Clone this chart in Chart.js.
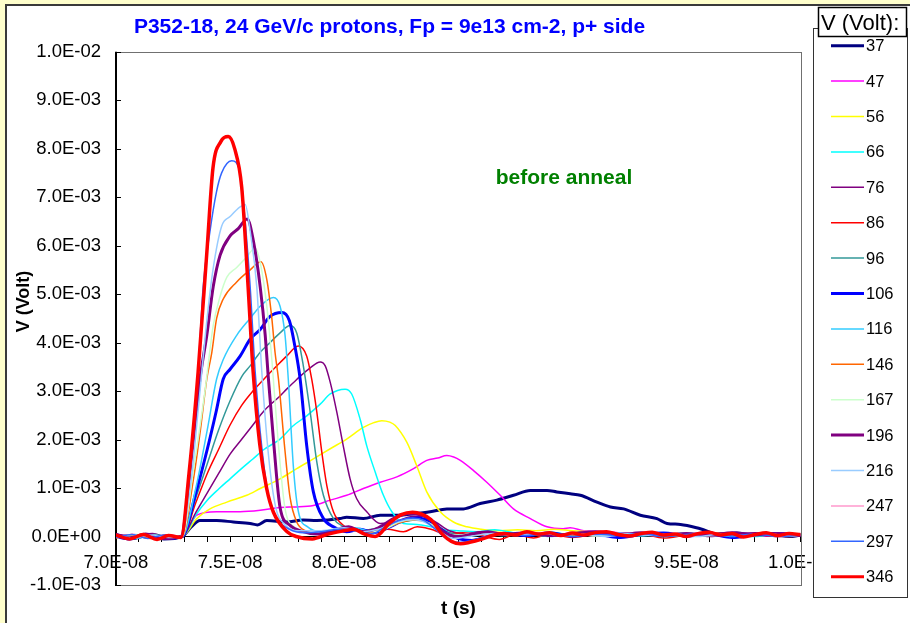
<!DOCTYPE html>
<html><head><meta charset="utf-8">
<script src="https://cdn.jsdelivr.net/npm/chart.js@4/dist/chart.umd.min.js"></script>
<style>html,body{margin:0;padding:0;background:#fff}canvas{display:block}</style>
</head><body>
<canvas id="c" width="910" height="623"></canvas>
<script>
// ---------- DATA (time in ns, signal in mV; converted to s / V when plotted) ----------
const voltages = ['37','47','56','66','76','86','96','106','116','146','167','196','216','247','297','346'];

const s37 = [[70,0.03],[70.7,-0.04],[71.4,0.02],[72.1,-0.05],[72.9,0.0],[73.3,0.2],[73.68,0.33],[74.41,0.33],[75.14,0.3],[75.88,0.27],[76.2,0.24],[76.61,0.33],[77.48,0.3],[78.2,0.34],[78.8,0.33],[79.82,0.37],[80.11,0.4],[80.84,0.37],[81.58,0.44],[82.3,0.44],[83.04,0.47],[83.77,0.51],[84.5,0.57],[85.23,0.57],[85.96,0.68],[86.69,0.75],[87.42,0.85],[88.16,0.95],[88.89,0.95],[89.32,0.92],[89.91,0.88],[90.35,0.85],[91.08,0.71],[91.67,0.61],[92.25,0.57],[92.98,0.44],[93.71,0.37],[94.15,0.27],[94.74,0.25],[95.61,0.16],[96.49,0.04],[97.2,0.07],[98,0.02],[98.8,0.05],[99.5,0.0],[100,0.03]];
const s47 = [[70,0.0],[70.8,0.04],[71.6,-0.03],[72.3,0.03],[72.9,0.0],[73.54,0.44],[74.41,0.51],[75.44,0.51],[76.32,0.54],[77.19,0.6],[77.92,0.61],[78.65,0.64],[79.39,0.75],[80.11,0.85],[80.84,0.99],[81.58,1.12],[82.31,1.23],[83.04,1.4],[83.62,1.57],[84.1,1.62],[84.5,1.67],[84.8,1.64],[85.09,1.57],[85.67,1.36],[86.25,1.12],[86.84,0.85],[87.42,0.57],[88.16,0.37],[88.89,0.2],[89.6,0.16],[89.9,0.18],[90.5,0.12],[91.5,0.1],[92.5,0.06],[93.5,0.08],[94.5,0.03],[95.5,0.06],[96.5,0.02],[97.5,0.05],[98.5,0.01],[99.5,0.04],[100,0.02]];
const s56 = [[70,0.02],[70.8,-0.02],[71.6,0.03],[72.3,-0.02],[72.9,0.0],[73.54,0.37],[74.12,0.57],[74.86,0.71],[75.73,0.85],[76.32,0.99],[77.19,1.19],[77.92,1.4],[78.65,1.6],[79.39,1.81],[80.11,2.01],[80.84,2.25],[81.3,2.35],[81.65,2.39],[82.0,2.36],[82.24,2.29],[82.75,1.94],[83.18,1.46],[83.62,0.92],[84.21,0.51],[84.79,0.3],[85.38,0.2],[86,0.15],[86.8,0.12],[87.6,0.14],[88.4,0.12],[89.2,0.15],[90,0.12],[91,0.09],[92,0.04],[93,0.07],[94,0.02],[95,0.06],[96,0.03],[97,0.06],[98,0.01],[99,0.05],[100,0.03]];
const s66 = [[70,-0.01],[70.8,0.03],[71.6,-0.04],[72.3,0.02],[72.9,0.0],[73.5,0.45],[74.0,0.75],[74.5,0.98],[75.0,1.19],[75.5,1.4],[76.0,1.6],[76.5,1.8],[77.19,2.01],[77.78,2.29],[78.36,2.49],[78.95,2.73],[79.39,2.94],[80.04,3.04],[80.33,2.94],[80.7,2.42],[80.99,1.87],[81.36,1.33],[81.72,0.85],[82.09,0.51],[82.6,0.27],[83.2,0.25],[83.8,0.2],[84.4,0.14],[85,0.12],[85.8,0.1],[86.6,0.14],[87.4,0.08],[88.2,0.05],[89,0.09],[90,0.03],[91,0.07],[92,0.02],[93,0.06],[94,0.03],[95,0.07],[96,0.02],[97,0.05],[98,0.0],[99,0.05],[100,0.03]];
const s76 = [[70,0.05],[70.8,0.0],[71.6,0.06],[72.3,-0.02],[72.9,0.0],[73.5,0.5],[74.0,0.9],[74.5,1.3],[75.0,1.7],[75.5,2.0],[76.0,2.3],[76.5,2.6],[77.19,2.9],[77.48,3.04],[77.92,3.24],[78.51,3.48],[78.95,3.6],[79.17,3.52],[79.39,3.18],[79.68,2.56],[79.96,1.87],[80.26,1.19],[80.55,0.78],[80.99,0.51],[81.58,0.27],[82.2,0.3],[82.8,0.4],[83.4,0.42],[84,0.3],[84.6,0.12],[85.3,0.06],[86,0.1],[87,0.04],[88,0.08],[89,0.02],[90,0.06],[91,0.01],[92,0.05],[93,0.09],[94,0.03],[95,0.06],[96,0.0],[97,0.05],[98,0.08],[99,0.02],[100,0.04]];
const s86 = [[70,-0.02],[70.7,0.04],[71.5,-0.03],[72.2,0.03],[72.9,0.0],[73.5,0.7],[74.0,1.3],[74.5,1.8],[75.0,2.3],[75.5,2.7],[76.0,3.0],[76.61,3.31],[77.05,3.52],[77.48,3.72],[77.99,3.93],[78.36,3.72],[78.58,3.24],[78.8,2.57],[79.02,1.74],[79.24,1.05],[79.53,0.51],[79.96,0.23],[80.5,0.12],[81.2,0.08],[81.9,0.15],[82.6,0.1],[83.2,0.2],[83.8,0.15],[84.5,0.05],[85.2,0.08],[86,0.02],[86.8,-0.06],[87.5,0.04],[88.3,-0.03],[89,0.05],[90,-0.02],[91,0.04],[92,0.0],[93,0.05],[94,-0.03],[95,0.03],[96,0.06],[97,-0.01],[98,0.04],[99,0.0],[100,0.03]];
const s96 = [[70,0.03],[70.9,-0.02],[71.7,0.04],[72.4,-0.03],[72.9,0.0],[73.5,0.8],[74.0,1.5],[74.5,2.2],[75.0,2.8],[75.51,3.3],[75.88,3.52],[76.32,3.8],[76.75,4.0],[77.19,4.2],[77.63,4.35],[77.92,4.2],[78.21,3.52],[78.51,2.57],[78.8,1.54],[79.09,0.85],[79.53,0.37],[79.96,0.21],[80.5,0.12],[81.2,0.15],[81.9,0.22],[82.6,0.3],[83.3,0.35],[83.9,0.28],[84.5,0.1],[85.2,0.03],[86,0.08],[87,0.03],[88,0.07],[89,0.01],[90,0.05],[91,0.08],[92,0.02],[93,0.06],[94,0.0],[95,0.04],[96,0.07],[97,0.02],[98,0.05],[99,0.01],[100,0.04]];
const s106 = [[70,0.0],[70.6,-0.05],[71.3,0.03],[72,-0.04],[72.9,0.0],[73.5,0.9],[74.0,1.8],[74.4,2.6],[74.7,3.25],[75.0,3.45],[75.44,3.72],[75.88,4.07],[76.32,4.27],[76.75,4.54],[77.27,4.62],[77.6,4.45],[77.85,3.9],[78.07,3.25],[78.36,1.87],[78.65,0.92],[79.09,0.37],[79.53,0.2],[80.1,0.1],[80.7,0.15],[81.3,0.08],[82,0.2],[82.7,0.35],[83.2,0.38],[83.8,0.3],[84.4,0.1],[85,-0.04],[85.6,-0.08],[86.3,0.0],[87,0.06],[88,0.02],[89,0.07],[90,0.01],[91,0.05],[92,-0.02],[93,0.04],[94,0.07],[95,0.01],[96,0.05],[97,-0.02],[98,0.04],[99,0.06],[100,0.02]];
const s116 = [[70,0.02],[70.8,-0.04],[71.6,0.02],[72.3,-0.03],[72.9,0.0],[73.5,1.0],[74.0,2.2],[74.41,3.25],[74.7,3.65],[75.29,4.15],[75.88,4.5],[76.32,4.75],[76.9,4.93],[77.19,4.75],[77.41,4.15],[77.55,3.25],[77.78,1.4],[78.0,0.5],[78.4,0.2],[79,0.1],[79.8,0.12],[80.5,0.18],[81.2,0.1],[81.9,0.18],[82.6,0.32],[83.2,0.36],[83.8,0.25],[84.4,0.08],[85,0.02],[86,0.07],[87,0.02],[88,0.06],[89,0.0],[90,0.05],[91,0.02],[92,0.07],[93,0.01],[94,0.05],[95,0.02],[96,0.06],[97,0.0],[98,0.05],[99,0.02],[100,0.04]];
const s146 = [[70,-0.03],[70.7,0.03],[71.5,-0.04],[72.2,0.02],[72.9,0.0],[73.4,1.2],[73.7,2.2],[73.98,3.25],[74.2,3.8],[74.41,4.5],[74.7,4.9],[75.29,5.25],[75.88,5.5],[76.35,5.67],[76.61,5.3],[76.83,4.5],[76.97,3.8],[77.12,3.25],[77.4,1.8],[77.63,0.8],[77.92,0.3],[78.3,0.12],[79,0.05],[79.7,0.1],[80.4,0.15],[81,0.08],[81.7,0.15],[82.4,0.28],[83,0.34],[83.6,0.3],[84.2,0.12],[84.8,0.0],[85.5,0.04],[86.5,0.09],[87.5,0.03],[88.5,0.07],[89.5,0.01],[90.5,0.05],[91.5,0.09],[92.5,0.03],[93.5,0.06],[94.5,0.01],[95.5,0.05],[96.5,0.08],[97.5,0.02],[98.5,0.05],[99.5,0.0],[100,0.03]];
const s167 = [[70,0.0],[70.9,0.04],[71.7,-0.03],[72.4,0.02],[72.9,0.0],[73.4,1.4],[73.9,3.0],[74.26,4.35],[74.56,4.95],[74.86,5.35],[75.29,5.55],[75.7,5.75],[76.1,5.95],[76.32,5.65],[76.61,4.75],[76.83,3.65],[77.1,2.0],[77.4,0.6],[77.8,0.2],[78.4,0.1],[79.2,0.08],[80,0.15],[80.8,0.1],[81.6,0.12],[82.4,0.3],[83.1,0.35],[83.7,0.28],[84.3,0.1],[85,0.03],[86,0.08],[87,0.03],[88,0.07],[89,0.02],[90,0.06],[91,0.01],[92,0.05],[93,0.08],[94,0.02],[95,0.06],[96,0.01],[97,0.05],[98,0.02],[99,0.06],[100,0.02]];
const s196 = [[70,0.04],[70.6,-0.03],[71.3,0.05],[72,-0.04],[72.85,0.0],[73.3,1.6],[73.68,3.25],[73.98,4.15],[74.26,5.15],[74.56,5.8],[75.0,6.2],[75.36,6.35],[75.75,6.55],[76.02,6.1],[76.32,5.15],[76.54,4.15],[76.68,3.25],[76.9,2.0],[77.19,0.6],[77.63,0.23],[78.2,0.1],[78.8,0.05],[79.5,0.12],[80.2,0.2],[80.8,0.1],[81.5,0.18],[82.2,0.38],[82.8,0.47],[83.4,0.44],[83.9,0.3],[84.4,0.08],[85,0.0],[85.6,0.05],[86.3,0.1],[87,0.04],[88,0.08],[89,0.02],[90,0.06],[91,0.1],[92,0.04],[93,0.07],[94,0.02],[95,0.06],[96,0.03],[97,0.08],[98,0.03],[99,0.06],[100,0.02]];
const s216 = [[70,0.01],[70.8,-0.03],[71.6,0.03],[72.3,-0.02],[72.85,0.0],[73.3,1.2],[73.6,2.6],[73.98,4.45],[74.25,5.5],[74.63,6.4],[75.0,6.6],[75.44,6.8],[75.66,6.85],[75.88,6.3],[76.17,5.15],[76.39,3.4],[76.7,1.6],[77.0,0.6],[77.4,0.25],[78,0.12],[79,0.12],[80,0.18],[80.8,0.1],[81.5,0.15],[82.3,0.3],[83,0.35],[83.6,0.28],[84.2,0.1],[84.8,-0.04],[85.5,0.0],[86.5,0.06],[87.5,0.02],[88.5,0.07],[89.5,0.03],[90.5,0.05],[91.5,0.0],[92.5,0.06],[93.5,0.02],[94.5,0.05],[95.5,0.0],[96.5,0.05],[97.5,0.02],[98.5,0.06],[99.5,0.01],[100,0.03]];
const s247 = []; // no trace visible in the reference plot
const s297 = [[70,-0.02],[70.7,0.04],[71.4,-0.04],[72.1,0.03],[72.85,-0.01],[73.2,1.1],[73.6,3.4],[73.82,5.15],[74.12,6.3],[74.4,7.1],[74.63,7.5],[75.07,7.75],[75.44,7.5],[75.66,6.5],[75.88,5.15],[76.1,3.4],[76.4,1.8],[76.7,0.8],[77.1,0.35],[77.6,0.15],[78.2,0.08],[79,0.1],[79.8,0.15],[80.5,0.12],[81.2,0.05],[81.8,0.2],[82.4,0.33],[83,0.38],[83.5,0.33],[84,0.15],[84.5,-0.05],[85,-0.12],[85.6,-0.08],[86.2,0.0],[87,0.05],[88,0.02],[89,0.06],[90,0.0],[91,0.05],[92,0.02],[93,0.06],[94,0.0],[95,0.04],[96,0.07],[97,0.01],[98,0.05],[99,0.0],[100,0.03]];
const s346 = [[70,0.03],[70.6,-0.05],[71.2,0.04],[71.8,-0.06],[72.3,0.02],[72.85,-0.02],[73.2,1.3],[73.6,3.4],[73.98,5.85],[74.25,7.6],[74.6,8.15],[74.92,8.25],[75.2,8.0],[75.51,7.2],[75.79,5.15],[76.01,3.4],[76.3,1.9],[76.6,1.0],[76.9,0.5],[77.5,0.1],[77.9,0.0],[78.6,-0.05],[79.3,0.05],[80.1,0.13],[80.4,0.15],[80.9,0.05],[81.36,0.0],[82.0,0.28],[82.5,0.45],[83.0,0.5],[83.4,0.46],[83.8,0.35],[84.3,0.05],[84.7,-0.1],[85.1,-0.15],[85.5,-0.12],[86.0,-0.06],[86.5,0.02],[87,0.06],[87.5,0.03],[88,0.1],[88.5,0.05],[89,0.08],[89.5,0.02],[90,0.07],[90.5,0.03],[91,0.08],[91.5,0.1],[92,0.04],[92.5,0.01],[93,0.06],[93.5,0.09],[94,0.03],[94.5,0.05],[95,0.0],[95.5,0.06],[96,0.09],[96.5,0.03],[97,0.06],[97.5,-0.01],[98,0.04],[98.5,0.08],[99,0.02],[99.5,0.06],[100,0.04]];

const seriesData = [s37,s47,s56,s66,s76,s86,s96,s106,s116,s146,s167,s196,s216,s247,s297,s346];

const xLabelNs = [70,75,80,85,90,95,100];
const xTickLabels = ['7.0E-08','7.5E-08','8.0E-08','8.5E-08','9.0E-08','9.5E-08','1.0E-07'];
const yTickMv = [-1,0,1,2,3,4,5,6,7,8,9,10];
const yTickLabels = ['-1.0E-03','0.0E+00','1.0E-03','2.0E-03','3.0E-03','4.0E-03','5.0E-03','6.0E-03','7.0E-03','8.0E-03','9.0E-03','1.0E-02'];

const chartTitle = 'P352-18, 24 GeV/c protons, Fp = 9e13 cm-2, p+ side';
const noteText = 'before anneal';
const xTitle = 't (s)';
const yTitle = 'V (Volt)';
const legendTitle = 'V (Volt):';

// ---------- STYLES ----------
const seriesStyle = {
  '37':{color:'#000080',width:3}, '47':{color:'#FF00FF',width:1.5}, '56':{color:'#FFFF00',width:1.5},
  '66':{color:'#00FFFF',width:1.5}, '76':{color:'#800080',width:1.5}, '86':{color:'#FF0000',width:1.5},
  '96':{color:'#339999',width:1.5}, '106':{color:'#0000FF',width:3}, '116':{color:'#33CCFF',width:1.5},
  '146':{color:'#FF6600',width:1.5}, '167':{color:'#CCFFCC',width:1.5}, '196':{color:'#800080',width:3},
  '216':{color:'#99CCFF',width:1.5}, '247':{color:'#FF99CC',width:1.5}, '297':{color:'#3366FF',width:1.5},
  '346':{color:'#FF0000',width:3.5}
};
const FONT = '"Liberation Sans", Arial, Helvetica, sans-serif';

// minor x tick positions (every 1 ns)
const xMinorNs = [];
for (let t = 70; t <= 100; t++) xMinorNs.push(t);

const datasets = voltages.map((v, i) => ({
  label: v,
  data: seriesData[i].map(p => ({x: p[0] * 1e-9, y: p[1] * 1e-3})),
  borderColor: seriesStyle[v].color,
  backgroundColor: seriesStyle[v].color,
  borderWidth: seriesStyle[v].width,
  pointRadius: 0,
  fill: false,
  cubicInterpolationMode: 'monotone',
  borderJoinStyle: 'round',
  borderCapStyle: 'round',
  order: voltages.length - i
}));

const excelPlugin = {
  id: 'excelLook',
  beforeDraw(chart) {
    const ctx = chart.ctx;
    ctx.save();
    ctx.fillStyle = '#FFFFCC'; ctx.fillRect(0, 0, 910, 623);
    ctx.fillStyle = '#FFFFFF'; ctx.fillRect(6, 5, 904, 618);
    ctx.strokeStyle = '#3a3a3a'; ctx.lineWidth = 2;
    ctx.beginPath(); ctx.moveTo(6, 623); ctx.lineTo(6, 5); ctx.lineTo(910, 5); ctx.stroke();
    ctx.restore();
  },
  beforeDatasetsDraw(chart) {
    const {ctx, chartArea: a, scales: {y}} = chart;
    ctx.save();
    ctx.strokeStyle = '#707070'; ctx.lineWidth = 1;
    ctx.strokeRect(Math.round(a.left) + 0.5, Math.round(a.top) + 0.5, Math.round(a.right - a.left), Math.round(a.bottom - a.top));
    ctx.strokeStyle = '#000'; ctx.lineWidth = 1;
    yTickMv.forEach(v => {
      const py = Math.round(y.getPixelForValue(v * 1e-3)) + 0.5;
      ctx.beginPath(); ctx.moveTo(a.left, py); ctx.lineTo(a.left + 5, py); ctx.stroke();
    });
    ctx.lineWidth = 2;
    ctx.beginPath(); ctx.moveTo(a.left, a.top); ctx.lineTo(a.left, a.bottom + 1); ctx.stroke();
    ctx.restore();
  },
  afterDraw(chart) {
    const ctx = chart.ctx;
    ctx.save();
    // title
    ctx.fillStyle = '#0000FF'; ctx.font = 'bold 21px ' + FONT;
    ctx.textAlign = 'center'; ctx.textBaseline = 'alphabetic';
    ctx.fillText(chartTitle, 389.5, 33);
    // annotation
    ctx.fillStyle = '#008000'; ctx.font = 'bold 21px ' + FONT;
    ctx.fillText(noteText, 564, 184);
    // axis titles
    ctx.fillStyle = '#000'; ctx.font = 'bold 19px ' + FONT;
    ctx.fillText(xTitle, 458.5, 614);
    ctx.save();
    ctx.translate(29, 301.5); ctx.rotate(-Math.PI / 2);
    ctx.font = 'bold 18px ' + FONT;
    ctx.fillText(yTitle, 0, 0);
    ctx.restore();
    // legend frame
    ctx.fillStyle = '#fff'; ctx.fillRect(813, 28, 95, 570);
    ctx.strokeStyle = '#333'; ctx.lineWidth = 1;
    ctx.strokeRect(813.5, 28.5, 94, 569);
    // legend title box
    ctx.fillStyle = '#fff'; ctx.fillRect(818, 7, 89, 30);
    ctx.lineWidth = 1.5; ctx.strokeStyle = '#000';
    ctx.strokeRect(818.5, 7.5, 88, 29);
    ctx.fillStyle = '#000'; ctx.font = '22px ' + FONT; ctx.textAlign = 'left';
    ctx.fillText(legendTitle, 821, 30);
    // legend entries
    ctx.font = '16.5px ' + FONT; ctx.textBaseline = 'middle';
    chart.data.datasets.forEach((ds, i) => {
      const yy = 45.7 + i * 35.4;
      ctx.strokeStyle = ds.borderColor;
      ctx.lineWidth = ds.borderWidth >= 3 ? 3 : 1.5;
      ctx.beginPath(); ctx.moveTo(831, yy); ctx.lineTo(864, yy); ctx.stroke();
      ctx.fillStyle = '#000';
      ctx.fillText(ds.label, 866, yy + 1);
    });
    ctx.restore();
  }
};

new Chart(document.getElementById('c'), {
  type: 'line',
  data: { datasets },
  plugins: [excelPlugin],
  options: {
    responsive: false,
    animation: false,
    devicePixelRatio: 1,
    layout: { padding: { left: 0, top: 51.7, right: 109.5, bottom: 38 } },
    plugins: { legend: { display: false }, tooltip: { enabled: false }, title: { display: false } },
    scales: {
      x: {
        type: 'linear',
        min: 70e-9, max: 100e-9,
        position: { y: 0 },
        afterBuildTicks: s => { s.ticks = xMinorNs.map(t => ({ value: t * 1e-9 })); },
        ticks: {
          autoSkip: false, maxRotation: 0, minRotation: 0, padding: 10,
          color: '#000', font: { family: FONT, size: 18.5 },
          callback: (val) => {
            const k = xLabelNs.findIndex(t => Math.abs(t * 1e-9 - val) < 1e-13);
            return k >= 0 ? xTickLabels[k] : '';
          }
        },
        grid: { display: true, drawOnChartArea: false, drawTicks: true, tickLength: 5, color: '#000', tickWidth: 1 },
        border: { display: true, color: '#000', width: 1 }
      },
      y: {
        type: 'linear',
        min: -1e-3, max: 10e-3,
        position: 'left',
        afterBuildTicks: s => { s.ticks = yTickMv.map(v => ({ value: v * 1e-3 })); },
        afterFit: s => { s.width = 116; },
        ticks: {
          padding: 15, color: '#000', font: { family: FONT, size: 18.5 },
          callback: (val) => {
            const k = yTickMv.findIndex(v => Math.abs(v * 1e-3 - val) < 1e-9);
            return k >= 0 ? yTickLabels[k] : '';
          }
        },
        grid: { display: false, drawTicks: false },
        border: { display: false }
      }
    }
  }
});
</script>
</body></html>
